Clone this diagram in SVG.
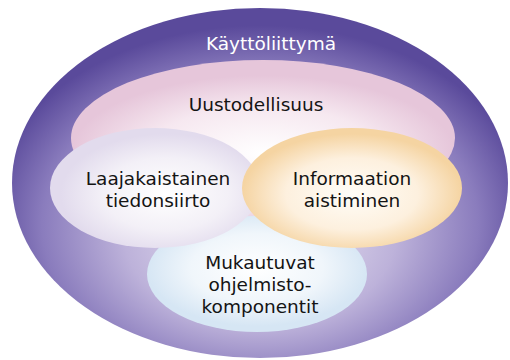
<svg xmlns="http://www.w3.org/2000/svg" width="510" height="360" viewBox="0 0 510 360">
<defs>
<radialGradient id="gOuter" cx="0.5" cy="0.6" r="0.55" fx="0.5" fy="0.68">
<stop offset="0" stop-color="#efebf6"/>
<stop offset="0.5" stop-color="#bdb2da"/>
<stop offset="0.8" stop-color="#8a7cbd"/>
<stop offset="1" stop-color="#5a4a9b"/>
</radialGradient>
<radialGradient id="gPink" cx="0.5" cy="0.6" r="0.5">
<stop offset="0" stop-color="#ffffff"/>
<stop offset="0.6" stop-color="#f6e8f0"/>
<stop offset="1" stop-color="#e6c6da"/>
</radialGradient>
<radialGradient id="gLav" cx="0.55" cy="0.55" r="0.5">
<stop offset="0" stop-color="#ffffff"/>
<stop offset="0.6" stop-color="#f3f0f7"/>
<stop offset="1" stop-color="#e2dbed"/>
</radialGradient>
<radialGradient id="gOrange" cx="0.5" cy="0.55" r="0.5">
<stop offset="0" stop-color="#fffdf8"/>
<stop offset="0.6" stop-color="#fdf0de"/>
<stop offset="1" stop-color="#f5d4a2"/>
</radialGradient>
<radialGradient id="gBlue" cx="0.5" cy="0.45" r="0.5">
<stop offset="0" stop-color="#ffffff"/>
<stop offset="0.6" stop-color="#f0f6fb"/>
<stop offset="1" stop-color="#d6e6f4"/>
</radialGradient>
<style>
text{font-family:"DejaVu Sans","Noto Sans",sans-serif;font-size:18.5px;text-anchor:middle;fill:#141414}
.w{fill:#ffffff}
</style>
</defs>
<rect width="510" height="360" fill="#ffffff"/>
<g id="kayttoliittyma">
<ellipse cx="260" cy="183" rx="248" ry="175" fill="url(#gOuter)"/>
<text class="w" x="271" y="50">Käyttöliittymä</text>
</g>
<g id="uustodellisuus">
<ellipse cx="263" cy="138" rx="192" ry="78" fill="url(#gPink)"/>
<text x="256" y="111">Uustodellisuus</text>
</g>
<g id="mukautuvat">
<ellipse cx="257" cy="274" rx="110" ry="58" fill="url(#gBlue)"/>
<text x="260" y="269">Mukautuvat</text>
<text x="260" y="291">ohjelmisto-</text>
<text x="260" y="313">komponentit</text>
</g>
<g id="laajakaistainen">
<ellipse cx="155" cy="188" rx="105" ry="60" fill="url(#gLav)"/>
<text x="158" y="185">Laajakaistainen</text>
<text x="158" y="207">tiedonsiirto</text>
</g>
<g id="informaatio">
<ellipse cx="352" cy="188" rx="110" ry="60" fill="url(#gOrange)"/>
<text x="352" y="185">Informaation</text>
<text x="352" y="207">aistiminen</text>
</g>
<g id="connectors"/>
</svg>
